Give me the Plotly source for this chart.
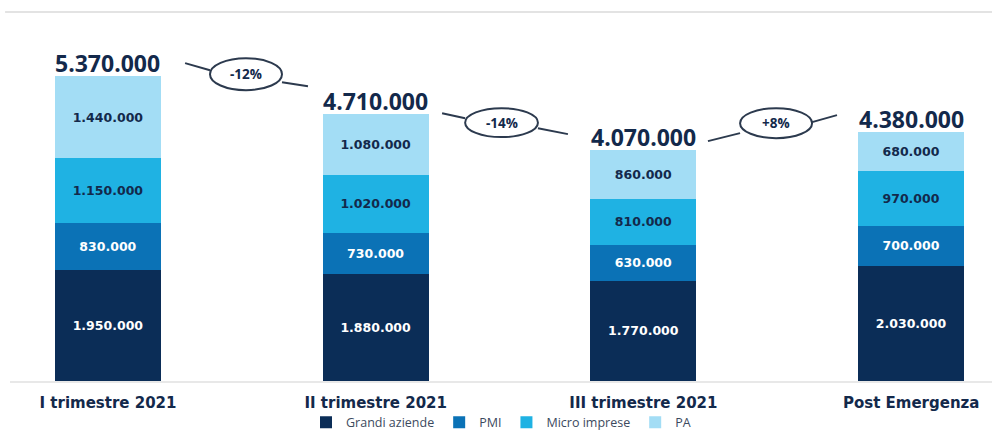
import plotly.graph_objects as go

# --- data -------------------------------------------------------------------
categories = ["I trimestre 2021", "II trimestre 2021", "III trimestre 2021", "Post Emergenza"]
grandi_aziende = [1950000, 1880000, 1770000, 2030000]
pmi = [830000, 730000, 630000, 700000]
micro_imprese = [1150000, 1020000, 810000, 970000]
pa = [1440000, 1080000, 860000, 680000]

series_names = ["Grandi aziende", "PMI", "Micro imprese", "PA"]
series_values = [grandi_aziende, pmi, micro_imprese, pa]

# --- styles -----------------------------------------------------------------
colors = ["#0b2d57", "#0b72b6", "#1fb2e3", "#a3ddf5"]
label_colors = ["#ffffff", "#ffffff", "#13294b", "#13294b"]
navy = "#13294b"
font_family = "Open Sans"
wide_family = "DejaVu Sans"

x_pos = list(range(len(categories)))
totals = [sum(v) for v in zip(*series_values)]


def fmt_it(v):
    return f"{v:,.0f}".replace(",", ".")


fig = go.Figure()
for name, vals, col, lcol in zip(series_names, series_values, colors, label_colors):
    fig.add_trace(go.Bar(
        x=x_pos, y=vals, name=name,
        marker=dict(color=col, line=dict(width=0)),
        width=0.396,
        texttemplate="%{y:,.0f}",
        textposition="inside",
        insidetextanchor="middle",
        textangle=0,
        textfont=dict(family=wide_family, size=12.5, color=lcol, weight=700),
        hoverinfo="skip",
    ))

# totals above each stack
for xi, t in zip(x_pos, totals):
    fig.add_annotation(
        x=xi, y=t, text=fmt_it(t), showarrow=False,
        yanchor="middle", yshift=13,
        font=dict(family=font_family, size=23, color=navy, weight=700),
    )

# period-over-period change callouts: ellipse + two connector lines
callouts = [
    dict(ell=(0.381, 5.123e6, 0.650, 5.687e6),
         left=(0.288, 5.599e6, 0.381, 5.475e6),
         right=(0.650, 5.264e6, 0.747, 5.194e6)),
    dict(ell=(1.334, 4.296e6, 1.606, 4.806e6),
         left=(1.248, 4.718e6, 1.334, 4.630e6),
         right=(1.606, 4.454e6, 1.718, 4.349e6)),
    dict(ell=(2.361, 4.278e6, 2.630, 4.806e6),
         left=(2.241, 4.225e6, 2.361, 4.366e6),
         right=(2.630, 4.560e6, 2.723, 4.683e6)),
]
line_style = dict(color="#2c3a4e", width=2)
for i, c in enumerate(callouts):
    change = (totals[i + 1] / totals[i] - 1) * 100
    label = f"{change:+.0f}%"
    x0, y0, x1, y1 = c["ell"]
    fig.add_shape(type="circle", xref="x", yref="y", x0=x0, y0=y0, x1=x1, y1=y1,
                  line=line_style, fillcolor="rgba(0,0,0,0)")
    for key in ("left", "right"):
        a, b, cc, d = c[key]
        fig.add_shape(type="line", xref="x", yref="y", x0=a, y0=b, x1=cc, y1=d,
                      line=line_style)
    fig.add_annotation(x=(x0 + x1) / 2, y=(y0 + y1) / 2, text=label, showarrow=False,
                       font=dict(family=font_family, size=13.5, color=navy, weight=700))

# thin rule across the top
fig.add_shape(type="line", xref="paper", yref="paper", x0=-0.005, x1=1, y0=1, y1=1,
              line=dict(color="#e3e3e3", width=2))

fig.update_layout(
    width=992, height=434,
    margin=dict(l=10, r=0, t=12, b=53, autoexpand=False),
    paper_bgcolor="white", plot_bgcolor="white",
    barmode="stack",
    separators=",.",
    showlegend=True,
    legend=dict(
        orientation="h", x=0.5, xanchor="center", y=-0.113, yanchor="middle",
        font=dict(family=font_family, size=12.5, color="#3c4a5e"),
        itemwidth=30, traceorder="normal",
    ),
    xaxis=dict(
        range=[-0.366, 3.302],
        tickmode="array", tickvals=x_pos, ticktext=categories,
        tickfont=dict(family=wide_family, size=15, color=navy, weight=700),
        showgrid=False, zeroline=False,
        showline=True, linecolor="#e8e8e8", linewidth=1.5,
        ticks="outside", ticklen=7, tickcolor="rgba(0,0,0,0)",
    ),
    yaxis=dict(range=[0, 6.5e6], visible=False, showgrid=False, zeroline=False),
)

fig.write_html("out.html")
